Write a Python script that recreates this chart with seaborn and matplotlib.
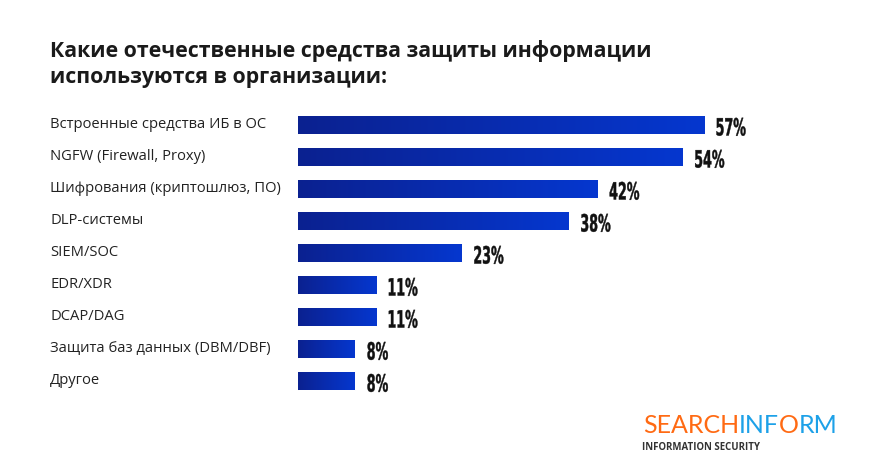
import numpy as np
import pandas as pd
import matplotlib
matplotlib.use("Agg")
import matplotlib.pyplot as plt
import matplotlib.transforms as mtransforms
from matplotlib.font_manager import FontProperties
from matplotlib.textpath import TextPath
from matplotlib.patches import PathPatch
from matplotlib.colors import LinearSegmentedColormap
import seaborn as sns

title_lines = ["Какие отечественные средства защиты информации",
               "используются в организации:"]
categories = ["Встроенные средства ИБ в ОС", "NGFW (Firewall, Proxy)",
              "Шифрования (криптошлюз, ПО)", "DLP-системы", "SIEM/SOC",
              "EDR/XDR", "DCAP/DAG", "Защита баз данных (DBM/DBF)", "Другое"]
values = [57, 54, 42, 38, 23, 11, 11, 8, 8]

df = pd.DataFrame({"cat": categories, "val": values})

sns.set_style("white")
plt.rcParams["font.family"] = ["Open Sans", "DejaVu Sans"]

fig = plt.figure(figsize=(8.77, 4.67), dpi=100)
ax = fig.add_axes([0.3398, 0.150, 0.5686, 0.617])

sns.barplot(data=df, x="val", y="cat", orient="h", color="#0a2aa8",
            width=0.57, ax=ax)
ax.axis("off")
ax.set_ylim(len(categories) - 0.5, -0.5)
ax.set_xlim(0, 70)

# value labels: squeezed condensed bold, drawn as paths
vfont = FontProperties(family="DejaVu Sans", weight="bold", stretch="condensed")
ref = TextPath((0, 0), "57%", size=1, prop=vfont).get_extents()
sx, sy = 29 / ref.width, 18 / ref.height

# left-to-right gradient on each bar
grad_cmap = LinearSegmentedColormap.from_list("g", ["#0b2190", "#0537cf"])
grad = np.linspace(0, 1, 256).reshape(1, -1)
for i, p in enumerate(ax.patches):
    x0, y0 = p.get_x(), p.get_y()
    w, h = p.get_width(), p.get_height()
    im = ax.imshow(grad, cmap=grad_cmap, aspect="auto",
                   extent=[x0, x0 + w, y0 + h, y0], zorder=3)
    im.set_clip_path(p)

    tp = TextPath((0, 0), f"{values[i]}%", size=1, prop=vfont)
    ext = tp.get_extents()
    t = (mtransforms.Affine2D()
         .translate(-ext.x0, -(ext.y0 + ext.y1) / 2)
         .scale(sx, sy)
         .translate(12.5, -2)
         + mtransforms.ScaledTranslation(x0 + w, y0 + h / 2, ax.transData))
    ax.add_patch(PathPatch(tp, transform=t, facecolor="#111111",
                           edgecolor="#111111", linewidth=0.3,
                           clip_on=False, zorder=4))
ax.set_ylim(len(categories) - 0.5, -0.5)
ax.set_xlim(0, 70)

tr = mtransforms.blended_transform_factory(fig.transFigure, ax.transData)
for i, c in enumerate(categories):
    ax.text(50 / 877, i, c, transform=tr, ha="left", va="center",
            fontsize=10.6, color="#222222")

for k, line in enumerate(title_lines):
    fig.text(50 / 877, 1 - (57 + 26 * k) / 467, line, ha="left",
             va="baseline", fontsize=15.3, fontweight="bold", color="#1a1a1a")

# logo, pieces placed one after another
renderer = fig.canvas.get_renderer()
x = 643 / 877
for piece, col in [("SEARCH", "#ff6a13"), ("INF", "#1da1e8"),
                   ("O", "#ff6a13"), ("RM", "#1da1e8")]:
    t = fig.text(x, 1 - 433 / 467, piece, ha="left", va="baseline",
                 fontsize=18, color=col, family="Lato")
    bb = t.get_window_extent(renderer)
    x = bb.x1 / fig.bbox.width
fig.text(642 / 877, 1 - 447 / 467, "INFORMATION SECURITY", ha="left",
         va="center", fontsize=6.9, color="#333333", fontweight="bold")

fig.savefig("out.png", dpi=100)
